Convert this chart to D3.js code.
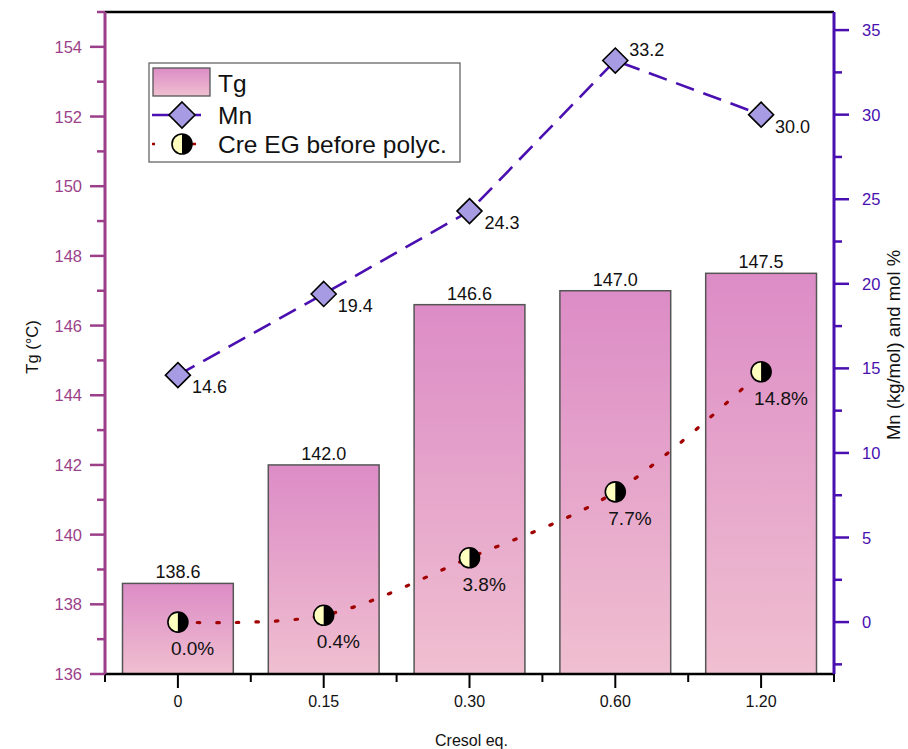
<!DOCTYPE html>
<html><head><meta charset="utf-8">
<script src="https://cdn.jsdelivr.net/npm/d3@7"></script>
<style>body{margin:0;background:#fff}</style></head><body>
<svg id="c" width="908" height="749"></svg>
<script>
const categories = ["0","0.15","0.30","0.60","1.20"];
const tgValues = [138.6, 142.0, 146.6, 147.0, 147.5];
const mnValues = [14.6, 19.4, 24.3, 33.2, 30.0];
const creValues = [0.0, 0.4, 3.8, 7.7, 14.8];
const tgTicks = [136,138,140,142,144,146,148,150,152,154];
const tgMinor = [137,139,141,143,145,147,149,151,153,155];
const mnTicks = [0,5,10,15,20,25,30,35];
const mnMinor = [-2.5,2.5,7.5,12.5,17.5,22.5,27.5,32.5];

const L=105, R=834, T=12, B=674;
const font = "'Liberation Sans', Arial, sans-serif";
const svg = d3.select("#c").style("font-family", font);

const x = d3.scaleBand().domain(categories).range([L,R]).paddingInner(0.24).paddingOuter(0.12);
const yL = d3.scaleLinear().domain([136,155]).range([B,T]);
const yR = d3.scaleLinear().domain([-3.07,36.07]).range([B,T]);
const cx = c => x(c) + x.bandwidth()/2;

const defs = svg.append("defs");
const g = defs.append("linearGradient").attr("id","bg").attr("x1",0).attr("y1",0).attr("x2",0).attr("y2",1);
g.append("stop").attr("offset","0%").attr("stop-color","#dc8cc6");
g.append("stop").attr("offset","100%").attr("stop-color","#f0bfd0");

const COL_L = "#9b3f8a", COL_R = "#4a0fb0";

// bars
svg.selectAll("rect.bar").data(categories).enter().append("rect")
  .attr("x", d=>x(d)).attr("width", x.bandwidth())
  .attr("y", (d,i)=>yL(tgValues[i])).attr("height",(d,i)=>B-yL(tgValues[i]))
  .attr("fill","url(#bg)").attr("stroke","#555").attr("stroke-width",1.5);
svg.selectAll("text.tgl").data(categories).enter().append("text")
  .attr("x", d=>cx(d)).attr("y",(d,i)=>yL(tgValues[i])-5)
  .attr("text-anchor","middle").attr("font-size",18).attr("fill","#111")
  .text((d,i)=>tgValues[i].toFixed(1));

// Cre dotted curve
const creLine = d3.line().x((d,i)=>cx(categories[i])).y(d=>yR(d)).curve(d3.curveCatmullRom.alpha(0.5));
svg.append("path").attr("d", creLine(creValues)).attr("fill","none")
  .attr("stroke","#a00000").attr("stroke-width",3.2).attr("stroke-dasharray","2.5 17").attr("stroke-linecap","round");

// Mn dashed line
const mnLine = d3.line().x((d,i)=>cx(categories[i])).y(d=>yR(d));
svg.append("path").attr("d", mnLine(mnValues)).attr("fill","none")
  .attr("stroke",COL_R).attr("stroke-width",2.6).attr("stroke-dasharray","19 10");

// diamonds
function diamond(sel, px, py, s){
  sel.append("path").attr("d",`M${px},${py-s}L${px+s},${py}L${px},${py+s}L${px-s},${py}Z`)
    .attr("fill","#a79be3").attr("stroke","#000").attr("stroke-width",1.6);
}
mnValues.forEach((v,i)=>diamond(svg, cx(categories[i]), yR(v), 12.5));
const mnOff = [[14,18],[14,18],[15,18],[14,-5],[14,18]];
svg.selectAll("text.mnl").data(mnValues).enter().append("text")
  .attr("x",(d,i)=>cx(categories[i])+mnOff[i][0]).attr("y",(d,i)=>yR(d)+mnOff[i][1])
  .attr("font-size",18).attr("fill","#111").text(d=>d.toFixed(1));

// half circles
function halfCircle(sel, px, py, r){
  sel.append("circle").attr("cx",px).attr("cy",py).attr("r",r).attr("fill","#ffffc0");
  sel.append("path").attr("d",`M${px},${py-r}A${r},${r} 0 0 1 ${px},${py+r}Z`).attr("fill","#000");
  sel.append("circle").attr("cx",px).attr("cy",py).attr("r",r).attr("fill","none").attr("stroke","#000").attr("stroke-width",1.6);
}
creValues.forEach((v,i)=>halfCircle(svg, cx(categories[i]), yR(v), 10));
svg.selectAll("text.crl").data(creValues).enter().append("text")
  .attr("x",(d,i)=>cx(categories[i])-7).attr("y",(d,i)=>yR(d)+33)
  .attr("font-size",19).attr("fill","#111").text(d=>d.toFixed(1)+"%");

// frame top
svg.append("line").attr("x1",L).attr("x2",R).attr("y1",T).attr("y2",T).attr("stroke","#000").attr("stroke-width",2.5);
// bottom axis
svg.append("line").attr("x1",L).attr("x2",R).attr("y1",B).attr("y2",B).attr("stroke","#000").attr("stroke-width",2.5);
categories.forEach(c=>{
  svg.append("line").attr("x1",cx(c)).attr("x2",cx(c)).attr("y1",B).attr("y2",B+14).attr("stroke","#000").attr("stroke-width",2);
  svg.append("text").attr("x",cx(c)).attr("y",B+33).attr("text-anchor","middle").attr("font-size",16).attr("fill","#111").text(c);
});
for(let k=0;k<=categories.length;k++){
  const xx = L + k*x.step();
  svg.append("line").attr("x1",xx).attr("x2",xx).attr("y1",B).attr("y2",B+8).attr("stroke","#000").attr("stroke-width",2);
}
svg.append("text").attr("x",(L+R)/2+2).attr("y",746).attr("text-anchor","middle").attr("font-size",16).attr("fill","#111").text("Cresol eq.");

// left axis
svg.append("line").attr("x1",L).attr("x2",L).attr("y1",T).attr("y2",B).attr("stroke",COL_L).attr("stroke-width",3);
tgTicks.forEach(t=>{
  svg.append("line").attr("x1",L).attr("x2",L-15).attr("y1",yL(t)).attr("y2",yL(t)).attr("stroke",COL_L).attr("stroke-width",2.5);
  svg.append("text").attr("x",L-23).attr("y",yL(t)+6).attr("text-anchor","end").attr("font-size",16.5).attr("fill",COL_L).text(t);
});
tgMinor.forEach(t=>{
  svg.append("line").attr("x1",L).attr("x2",L-8).attr("y1",yL(t)).attr("y2",yL(t)).attr("stroke",COL_L).attr("stroke-width",2.5);
});
svg.append("text").attr("transform",`translate(38,${(T+B)/2+4}) rotate(-90)`).attr("text-anchor","middle")
  .attr("font-size",16.5).attr("fill","#111").text("Tg (°C)");

// right axis
svg.append("line").attr("x1",R).attr("x2",R).attr("y1",T).attr("y2",B).attr("stroke",COL_R).attr("stroke-width",3);
mnTicks.forEach(t=>{
  svg.append("line").attr("x1",R).attr("x2",R+15).attr("y1",yR(t)).attr("y2",yR(t)).attr("stroke",COL_R).attr("stroke-width",2.5);
  svg.append("text").attr("x",R+28).attr("y",yR(t)+6).attr("text-anchor","start").attr("font-size",16.5).attr("fill",COL_R).text(t);
});
mnMinor.forEach(t=>{
  svg.append("line").attr("x1",R).attr("x2",R+8).attr("y1",yR(t)).attr("y2",yR(t)).attr("stroke",COL_R).attr("stroke-width",2.5);
});
svg.append("text").attr("transform",`translate(900,${(T+B)/2+2}) rotate(-90)`).attr("text-anchor","middle")
  .attr("font-size",18.5).attr("fill","#111").text("Mn (kg/mol) and mol %");

// legend
const lg = svg.append("g");
lg.append("rect").attr("x",149).attr("y",63).attr("width",311).attr("height",99).attr("fill","#fff").attr("stroke","#666").attr("stroke-width",1.3);
lg.append("rect").attr("x",153).attr("y",68).attr("width",57).attr("height",28).attr("fill","url(#bg)").attr("stroke","#555").attr("stroke-width",1.3);
lg.append("text").attr("x",218).attr("y",92).attr("font-size",24.5).attr("fill","#111").text("Tg");
lg.append("line").attr("x1",152).attr("x2",201).attr("y1",115).attr("y2",115).attr("stroke",COL_R).attr("stroke-width",2.6);
diamond(lg,182,115,13);
lg.append("text").attr("x",218).attr("y",124).attr("font-size",24.5).attr("fill","#111").text("Mn");
lg.append("line").attr("x1",152).attr("x2",155).attr("y1",144).attr("y2",144).attr("stroke","#a00000").attr("stroke-width",2.5);
lg.append("line").attr("x1",192).attr("x2",196).attr("y1",144).attr("y2",144).attr("stroke","#a00000").attr("stroke-width",2.5);
halfCircle(lg,182,144,10);
lg.append("text").attr("x",218).attr("y",153).attr("font-size",24.5).attr("fill","#111").text("Cre EG before polyc.");
</script></body></html>
